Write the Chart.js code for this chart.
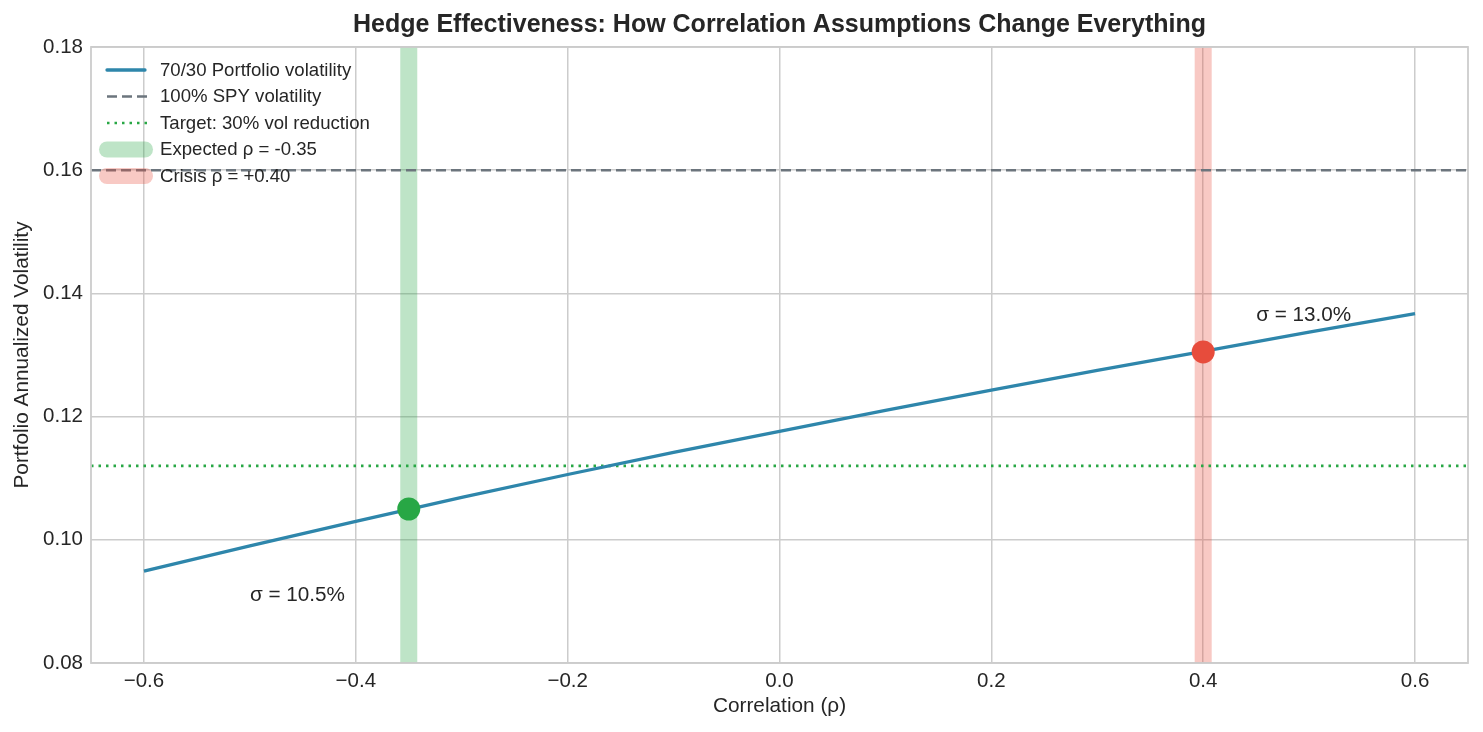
<!DOCTYPE html>
<html><head><meta charset="utf-8">
<script src="https://cdn.jsdelivr.net/npm/chart.js@4"></script>
<style>html,body{margin:0;padding:0;background:#fff}#wrap{width:1483px;height:732px}</style>
</head><body><div id="wrap"><canvas id="c" width="1483" height="732"></canvas></div>
<script>
const titleText = 'Hedge Effectiveness: How Correlation Assumptions Change Everything';
const xTitle = 'Correlation (ρ)';
const yTitle = 'Portfolio Annualized Volatility';
const rhoValues = [-0.6, -0.5, -0.4, -0.3, -0.2, -0.1, 0.0, 0.1, 0.2, 0.3, 0.4, 0.5, 0.6];
const portfolioVol = [0.0949, 0.0990, 0.1030, 0.1069, 0.1106, 0.1142, 0.1176, 0.1210, 0.1243, 0.1275, 0.1306, 0.1337, 0.1367];
const spyVol = 0.16;
const targetVol = 0.112;
const expectedRho = -0.35;
const expectedVol = 0.105;
const crisisRho = 0.40;
const crisisVol = 0.1305;
const xTicks = [-0.6, -0.4, -0.2, 0.0, 0.2, 0.4, 0.6];
const yTicks = [0.08, 0.10, 0.12, 0.14, 0.16, 0.18];
const legendLabels = ['70/30 Portfolio volatility', '100% SPY volatility', 'Target: 30% vol reduction', 'Expected ρ = -0.35', 'Crisis ρ = +0.40'];
const annotations = [
  {text: 'σ = 10.5%', x: -0.5, y: 0.090},
  {text: 'σ = 13.0%', x: 0.45, y: 0.1355}
];

const FONT = '"Liberation Sans", Arial, sans-serif';
const TXT = '#262626';
const C_LINE = '#2E86AB', C_SPY = '#6C757D', C_GREEN = '#28A745', C_RED = '#E74C3C';
const BAND_G = 'rgba(40,167,69,0.3)', BAND_R = 'rgba(231,76,60,0.3)';

const fmtX = v => { const s = Math.abs(v).toFixed(1); return v < -1e-9 ? '\u2212' + s : s; };

const overlay = {
  id: 'overlay',
  afterDatasetsDraw(chart) {
    const ctx = chart.ctx, xs = chart.scales.x, ys = chart.scales.y;
    ctx.save();
    ctx.fillStyle = TXT;
    ctx.font = '20.7px ' + FONT;
    ctx.textAlign = 'left'; ctx.textBaseline = 'alphabetic';
    annotations.forEach(a => ctx.fillText(a.text, xs.getPixelForValue(a.x), ys.getPixelForValue(a.y)));
    // legend
    const rows = [70, 96.5, 123, 149.5, 176];
    const hx0 = 107, hx1 = 145;
    rows.forEach((y, i) => {
      ctx.save();
      ctx.beginPath();
      if (i === 0) { ctx.strokeStyle = C_LINE; ctx.lineWidth = 3.3; ctx.lineCap = 'round'; ctx.moveTo(hx0, y); ctx.lineTo(hx1, y); }
      else if (i === 1) { ctx.strokeStyle = C_SPY; ctx.lineWidth = 2.6; ctx.setLineDash([10, 5]); ctx.moveTo(hx0, y); ctx.lineTo(hx1 + 2, y); }
      else if (i === 2) { ctx.strokeStyle = C_GREEN; ctx.lineWidth = 2.6; ctx.setLineDash([2.5, 5]); ctx.moveTo(hx0, y); ctx.lineTo(hx1 + 2, y); }
      else { ctx.strokeStyle = i === 3 ? BAND_G : BAND_R; ctx.lineWidth = 16; ctx.lineCap = 'round'; ctx.moveTo(hx0, y); ctx.lineTo(hx1, y); }
      ctx.stroke();
      ctx.restore();
      ctx.fillStyle = TXT;
      ctx.font = '18.6px ' + FONT;
      ctx.textBaseline = 'middle';
      ctx.fillText(legendLabels[i], 160, y + 0.5);
    });
    ctx.restore();
  },
  afterDraw(chart) {
    const ctx = chart.ctx, ca = chart.chartArea;
    ctx.save();
    ctx.fillStyle = TXT;
    ctx.textAlign = 'center'; ctx.textBaseline = 'middle';
    ctx.font = 'bold 25px ' + FONT;
    ctx.fillText(titleText, (ca.left + ca.right) / 2, 25);
    ctx.font = '20.8px ' + FONT;
    ctx.fillText(xTitle, (ca.left + ca.right) / 2, 706);
    ctx.translate(22, (ca.top + ca.bottom) / 2);
    ctx.rotate(-Math.PI / 2);
    ctx.fillText(yTitle, 0, 0);
    ctx.restore();
    // frame
    ctx.save();
    ctx.strokeStyle = '#cccccc'; ctx.lineWidth = 1.8;
    ctx.strokeRect(ca.left, ca.top, ca.right - ca.left, ca.bottom - ca.top);
    ctx.restore();
  }
};

const lineData = rhoValues.map((r, i) => ({x: r, y: portfolioVol[i]}));

new Chart(document.getElementById('c'), {
  type: 'scatter',
  data: {
    datasets: [
      {label: 'crisisPoint', data: [{x: crisisRho, y: crisisVol}], pointRadius: 11.5, pointHoverRadius: 11.5, backgroundColor: C_RED, borderColor: C_RED, borderWidth: 0, order: 0},
      {label: 'expectedPoint', data: [{x: expectedRho, y: expectedVol}], pointRadius: 11.5, pointHoverRadius: 11.5, backgroundColor: C_GREEN, borderColor: C_GREEN, borderWidth: 0, order: 1},
      {label: legendLabels[0], data: lineData, showLine: true, borderColor: C_LINE, borderWidth: 3.3, pointRadius: 0, fill: false, order: 2},
      {label: legendLabels[1], data: [{x: -0.65, y: spyVol}, {x: 0.65, y: spyVol}], showLine: true, borderColor: C_SPY, borderWidth: 2.6, borderDash: [10, 5], pointRadius: 0, order: 3},
      {label: legendLabels[2], data: [{x: -0.65, y: targetVol}, {x: 0.65, y: targetVol}], showLine: true, borderColor: C_GREEN, borderWidth: 2.6, borderDash: [2.5, 5], pointRadius: 0, order: 4},
      {label: legendLabels[3], data: [{x: expectedRho, y: 0.08}, {x: expectedRho, y: 0.18}], showLine: true, borderColor: BAND_G, borderWidth: 17, borderCapStyle: 'butt', pointRadius: 0, order: 5},
      {label: legendLabels[4], data: [{x: crisisRho, y: 0.08}, {x: crisisRho, y: 0.18}], showLine: true, borderColor: BAND_R, borderWidth: 17, borderCapStyle: 'butt', pointRadius: 0, order: 6}
    ]
  },
  options: {
    responsive: false, animation: false, devicePixelRatio: 1,
    layout: {padding: {top: 47, left: 0, right: 15, bottom: 0}},
    plugins: {legend: {display: false}, tooltip: {enabled: false}, title: {display: false}},
    scales: {
      x: {
        type: 'linear', min: -0.65, max: 0.65,
        afterBuildTicks: s => { s.ticks = xTicks.map(v => ({value: v})); },
        afterFit: s => { s.height = 69; },
        grid: {color: '#cccccc', lineWidth: 1.5, drawTicks: false},
        border: {display: false},
        ticks: {padding: 6, color: TXT, font: {family: FONT, size: 20.5}, callback: v => fmtX(v), maxRotation: 0}
      },
      y: {
        type: 'linear', min: 0.08, max: 0.18,
        afterBuildTicks: s => { s.ticks = yTicks.map(v => ({value: v})); },
        afterFit: s => { s.width = 91; },
        grid: {color: '#cccccc', lineWidth: 1.5, drawTicks: false},
        border: {display: false},
        ticks: {padding: 8, color: TXT, font: {family: FONT, size: 20.5}, callback: v => v.toFixed(2)}
      }
    }
  },
  plugins: [overlay]
});
</script></body></html>
